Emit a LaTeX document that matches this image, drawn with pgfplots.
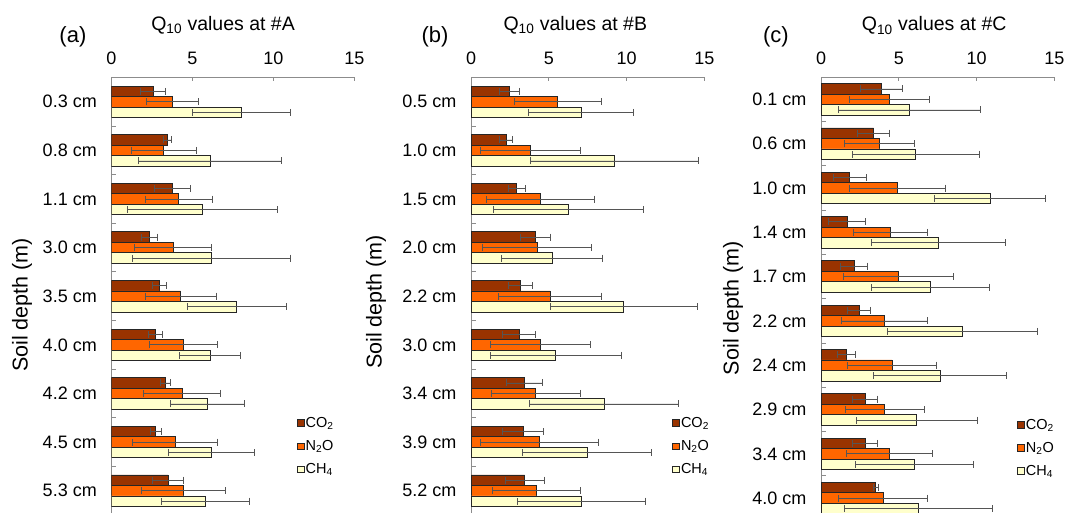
\documentclass[border=0pt]{standalone}
\usepackage{pgfplots}
\pgfplotsset{compat=1.18}
\usepackage{fontspec}
\setmainfont{Liberation Sans}
\definecolor{coC}{RGB}{153,51,0}
\definecolor{noC}{RGB}{255,102,0}
\definecolor{chC}{RGB}{255,255,204}
\definecolor{errC}{RGB}{85,85,85}
\definecolor{axC}{RGB}{140,140,140}

\pgfplotsset{
  q10/.style={
    scale only axis, anchor=north west,
    xmin=0, xmax=15, xtick={0,5,10,15},
    /pgf/number format/assume math mode=true,
    axis x line*=top, axis y line*=left,
    axis line style={axC, line width=1pt},
    xbar, bar width=10.5pt,
    tick align=inside,
    major tick length=3.5pt, minor tick length=5pt,
    major y tick style={draw=none},
    minor y tick style={axC, line width=1pt},
    major x tick style={axC, line width=1pt},
    ticklabel style={font=\fontsize{18}{21}\selectfont},
    xticklabel style={yshift=9pt},
    yticklabel style={xshift=-11pt},
    every axis y label/.style={rotate=90, anchor=center, font=\fontsize{21.5}{25}\selectfont},
    ylabel={Soil depth (m)},
    title style={anchor=center, font=\fontsize{19.5}{23}\selectfont},
    legend cell align=left,
    legend image code/.code={\draw[##1, line width=0.7pt] (0pt,-3.4pt) rectangle (7pt,3.4pt);},
    legend style={draw=none, fill=none, anchor=north west, inner sep=0pt,
      row sep=9.5pt, font=\fontsize{14.5}{17}\selectfont,
      nodes={inner sep=1pt}},
    error bars/x dir=both, error bars/x explicit,
    error bars/error mark=|,
    error bars/error bar style={errC, line width=0.8pt},
    error bars/error mark options={errC, line width=0.8pt, mark size=3.5pt},
  },
  co/.style={draw=black!85, fill=coC, line width=0.8pt, bar shift=10.5pt},
  no/.style={draw=black!85, fill=noC, line width=0.8pt, bar shift=0pt},
  ch/.style={draw=black!85, fill=chC, line width=0.8pt, bar shift=-10.5pt},
}

\begin{document}
\begin{tikzpicture}
\useasboundingbox (0,0) rectangle (1067pt,512pt);

% (a) site A
\begin{axis}[q10, at={(111.3pt,434.5pt)}, width=243pt, height=437.5pt,
  ymin=-0.5, ymax=8.5, ytick={0,...,8},
  yticklabels={5.3 cm,4.5 cm,4.2 cm,4.0 cm,3.5 cm,3.0 cm,1.1 cm,0.8 cm,0.3 cm},
  minor ytick={0.5,1.5,...,7.5},
  ylabel style={at={(axis description cs:-0.367,0.48)}},
  title={Q\textsubscript{10} values at \#A},
  title style={at={(axis description cs:0.46,1.105)}},
  legend style={at={(axis description cs:0.763,0.226)}},
  extra description/.code={\node[font=\fontsize{22}{26}\selectfont] at (axis description cs:-0.158,1.093) {(a)};}]
\addplot[co] coordinates {(2.59,8) +- (0.78,0) (3.44,7) +- (0.24,0) (3.77,6) +- (1.10,0)
  (2.37,5) +- (0.49,0) (2.98,4) +- (0.44,0) (2.74,3) +- (0.42,0) (3.33,2) +- (0.33,0)
  (2.74,1) +- (0.33,0) (3.50,0) +- (0.95,0)};
\addplot[no] coordinates {(3.77,8) +- (1.60,0) (3.23,7) +- (2.00,0) (4.16,6) +- (2.05,0)
  (3.81,5) +- (2.37,0) (4.28,4) +- (2.20,0) (4.44,3) +- (2.08,0) (4.36,2) +- (2.35,0)
  (3.93,1) +- (2.62,0) (4.44,0) +- (2.60,0)};
\addplot[ch] coordinates {(8.05,8) +- (3.02,0) (6.09,7) +- (4.44,0) (5.62,6) +- (4.62,0)
  (6.17,5) +- (4.88,0) (7.74,4) +- (3.04,0) (6.09,3) +- (1.89,0) (5.93,2) +- (2.31,0)
  (6.19,1) +- (2.64,0) (5.82,0) +- (2.72,0)};
\legend{CO\textsubscript{2},N\textsubscript{2}O,CH\textsubscript{4}}
\end{axis}

% (b) site B
\begin{axis}[q10, at={(471pt,434.5pt)}, width=233.3pt, height=437.5pt,
  ymin=-0.5, ymax=8.5, ytick={0,...,8},
  yticklabels={5.2 cm,3.9 cm,3.4 cm,3.0 cm,2.2 cm,2.0 cm,1.5 cm,1.0 cm,0.5 cm},
  minor ytick={0.5,1.5,...,7.5},
  ylabel style={at={(axis description cs:-0.407,0.487)}},
  title={Q\textsubscript{10} values at \#B},
  title style={at={(axis description cs:0.447,1.105)}},
  legend style={at={(axis description cs:0.862,0.226)}},
  extra description/.code={\node[font=\fontsize{22}{26}\selectfont] at (axis description cs:-0.154,1.093) {(b)};}]
\addplot[co] coordinates {(2.46,8) +- (0.66,0) (2.25,7) +- (0.42,0) (2.94,6) +- (0.55,0)
  (4.14,5) +- (0.96,0) (3.17,4) +- (0.75,0) (3.09,3) +- (1.07,0) (3.45,2) +- (1.15,0)
  (3.36,1) +- (1.31,0) (3.45,0) +- (1.24,0)};
\addplot[no] coordinates {(5.57,8) +- (2.80,0) (3.81,7) +- (3.20,0) (4.46,6) +- (3.50,0)
  (4.24,5) +- (3.52,0) (5.08,4) +- (3.33,0) (4.46,3) +- (3.21,0) (4.16,2) +- (2.87,0)
  (4.41,1) +- (3.81,0) (4.20,0) +- (2.81,0)};
\addplot[ch] coordinates {(7.09,8) +- (3.37,0) (9.24,7) +- (5.41,0) (6.26,6) +- (4.81,0)
  (5.21,5) +- (3.26,0) (9.83,4) +- (4.73,0) (5.44,3) +- (4.20,0) (8.55,2) +- (4.80,0)
  (7.46,1) +- (4.17,0) (7.09,0) +- (4.11,0)};
\legend{CO\textsubscript{2},N\textsubscript{2}O,CH\textsubscript{4}}
\end{axis}

% (c) site C
\begin{axis}[q10, at={(821pt,434.7pt)}, width=233.3pt, height=443pt,
  ymin=-0.5, ymax=9.5, ytick={0,...,9},
  yticklabels={4.0 cm,3.4 cm,2.9 cm,2.4 cm,2.2 cm,1.7 cm,1.4 cm,1.0 cm,0.6 cm,0.1 cm},
  minor ytick={0.5,1.5,...,8.5},
  ylabel style={at={(axis description cs:-0.377,0.479)}},
  title={Q\textsubscript{10} values at \#C},
  title style={at={(axis description cs:0.485,1.103)}},
  legend style={at={(axis description cs:0.840,0.231)}},
  extra description/.code={\node[font=\fontsize{22}{26}\selectfont] at (axis description cs:-0.193,1.091) {(c)};}]
\addplot[co] coordinates {(3.90,9) +- (1.35,0) (3.39,8) +- (1.02,0) (1.84,7) +- (1.07,0)
  (1.67,6) +- (1.20,0) (2.14,5) +- (0.87,0) (2.44,4) +- (0.75,0) (1.65,3) +- (0.59,0)
  (2.83,2) +- (0.80,0) (2.83,1) +- (0.78,0) (3.51,0) +- (0.15,0)};
\addplot[no] coordinates {(4.39,9) +- (2.59,0) (3.75,8) +- (2.23,0) (4.91,7) +- (3.09,0)
  (4.46,6) +- (2.38,0) (4.99,5) +- (3.52,0) (4.09,4) +- (2.77,0) (4.56,3) +- (2.87,0)
  (4.09,2) +- (2.53,0) (4.39,1) +- (2.75,0) (3.99,0) +- (2.85,0)};
\addplot[ch] coordinates {(5.68,9) +- (4.57,0) (6.09,8) +- (4.08,0) (10.86,7) +- (3.58,0)
  (7.54,6) +- (4.30,0) (7.03,5) +- (3.79,0) (9.09,4) +- (4.80,0) (7.65,3) +- (4.28,0)
  (6.15,2) +- (3.88,0) (6.00,1) +- (3.80,0) (6.24,0) +- (4.75,0)};
\legend{CO\textsubscript{2},N\textsubscript{2}O,CH\textsubscript{4}}
\end{axis}
\end{tikzpicture}
\end{document}
